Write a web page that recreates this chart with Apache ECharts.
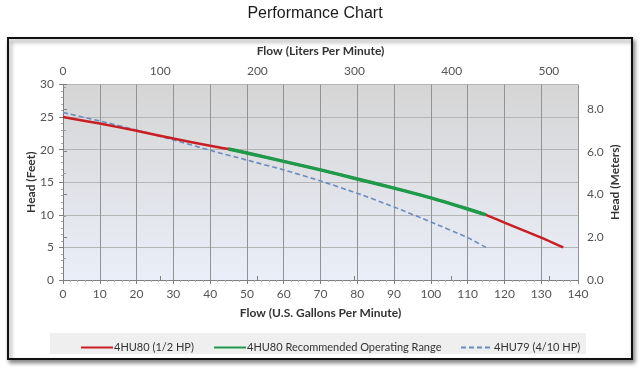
<!DOCTYPE html>
<html><head><meta charset="utf-8">
<script src="https://cdn.jsdelivr.net/npm/echarts@6/dist/echarts.min.js"></script>
<style>html,body{margin:0;padding:0;background:#fff}#c{width:640px;height:371px}</style>
</head><body><div id="c"></div>
<script>
// Data (flow in U.S. GPM, head in feet)
var hu80Flow = [0, 10, 20, 30, 40, 45, 50, 60, 70, 80, 90, 100, 110, 115, 120, 130, 136];
var hu80Head = [25.0, 24.0, 22.9, 21.7, 20.6, 20.1, 19.5, 18.2, 16.9, 15.5, 14.1, 12.6, 10.9, 10.0, 8.8, 6.5, 5.0];
var rangeFlow = [45, 50, 60, 70, 80, 90, 100, 110, 115];
var rangeHead = [20.1, 19.5, 18.2, 16.9, 15.5, 14.1, 12.6, 10.9, 10.0];
var hu79Flow = [0, 10, 20, 30, 40, 50, 60, 70, 80, 90, 100, 110, 115];
var hu79Head = [25.7, 24.4, 23.0, 21.5, 19.9, 18.4, 16.9, 15.2, 13.3, 11.2, 8.9, 6.5, 5.0];
var seriesNames = ['4HU80 (1/2 HP)', '4HU80 Recommended Operating Range', '4HU79 (4/10 HP)'];
var gpmMax = 140, ftMax = 30;
var lpmMax = gpmMax * 3.78541, mMax = ftMax * 0.3048;

function pairs(xs, ys) { return xs.map(function (x, i) { return [x, ys[i]]; }); }

var F = 'Lato, "Open Sans", sans-serif';
var lab = { color: '#555', fontSize: 12, fontFamily: F };
var nm = { color: '#333', fontSize: 12, fontWeight: 'bold', fontFamily: F };
var axLine = { show: true, lineStyle: { color: '#7f7f7f', width: 1 } };

var chart = echarts.init(document.getElementById('c'), null, { renderer: 'canvas' });
chart.setOption({
  animation: false,
  backgroundColor: '#fff',
  title: { text: 'Performance Chart', left: 310, top: 1, textAlign: 'center',
    textStyle: { fontFamily: '"Liberation Sans", Arial, sans-serif', fontSize: 16, fontWeight: 'normal', color: '#1a1a1a' } },
  graphic: [
    { type: 'rect', z: -10, shape: { x: 8, y: 38, width: 624, height: 321 },
      style: { fill: '#fff', stroke: '#111', lineWidth: 2, shadowBlur: 4, shadowOffsetX: 2, shadowOffsetY: 3, shadowColor: 'rgba(0,0,0,0.45)' } },
    { type: 'rect', z: -5, shape: { x: 50, y: 333, width: 536, height: 21 }, style: { fill: '#efefef' } }
  ],
  grid: { left: 63, right: 62, top: 84.5, bottom: 91, show: true, borderWidth: 0,
    backgroundColor: { type: 'linear', x: 0, y: 0, x2: 0, y2: 1,
      colorStops: [{ offset: 0, color: '#d5d5d5' }, { offset: 1, color: '#eaeef8' }] } },
  legend: [
    { data: [seriesNames[0]], left: 75, top: 337 },
    { data: [seriesNames[1]], left: 208, top: 337 },
    { data: [seriesNames[2]], left: 455, top: 337 }
  ].map(function (l) {
    l.itemWidth = 32; l.itemHeight = 12; l.itemGap = 0;
    l.itemStyle = { opacity: 0 };
    l.textStyle = { color: '#333', fontSize: 11, fontFamily: F, padding: [0, 0, 0, -4] };
    return l;
  }),
  xAxis: [
    { type: 'value', min: 0, max: gpmMax, interval: 10, position: 'bottom',
      name: 'Flow (U.S. Gallons Per Minute)', nameLocation: 'middle', nameGap: 27, nameTextStyle: nm,
      axisLine: axLine, axisTick: { show: true, length: 4, lineStyle: { color: '#7f7f7f' } },
      minorTick: { show: true, splitNumber: 5, length: 2, lineStyle: { color: '#aaa' } },
      axisLabel: Object.assign({ margin: 8 }, lab),
      splitLine: { show: true, lineStyle: { color: '#939393', width: 1 } } },
    { type: 'value', min: 0, max: lpmMax, interval: 100, position: 'top',
      name: 'Flow (Liters Per Minute)', nameLocation: 'middle', nameGap: 27, nameTextStyle: nm,
      axisLine: axLine, axisTick: { show: true, length: 4, lineStyle: { color: '#7f7f7f' } },
      axisLabel: Object.assign({ margin: 7, showMaxLabel: false }, lab),
      splitLine: { show: false } }
  ],
  yAxis: [
    { type: 'value', min: 0, max: ftMax, interval: 5, position: 'left',
      name: 'Head (Feet)', nameLocation: 'middle', nameGap: 26, nameMoveOverlap: false, nameTextStyle: nm,
      axisLine: axLine, axisTick: { show: true, length: 4, lineStyle: { color: '#7f7f7f' } },
      minorTick: { show: true, splitNumber: 5, length: 2, lineStyle: { color: '#aaa' } },
      axisLabel: Object.assign({ margin: 9 }, lab),
      splitLine: { show: true, lineStyle: { color: '#b5b5b5', width: 1 } } },
    { type: 'value', min: 0, max: mMax, interval: 2, position: 'right',
      name: 'Head (Meters)', nameLocation: 'middle', nameGap: 31, nameMoveOverlap: false, nameTextStyle: nm,
      axisLine: axLine, axisTick: { show: true, length: 4, lineStyle: { color: '#7f7f7f' } },
      minorTick: { show: true, splitNumber: 2, length: 3, lineStyle: { color: '#999' } },
      axisLabel: Object.assign({ margin: 9, showMaxLabel: false, formatter: function (v) { return v.toFixed(1); } }, lab),
      splitLine: { show: false } }
  ],
  series: [
    { name: seriesNames[0], type: 'line', data: pairs(hu80Flow, hu80Head), symbol: 'none', smooth: 0.2,
      lineStyle: { color: '#c81e24', width: 2.5 }, itemStyle: { color: '#c81e24' }, z: 3 },
    { name: seriesNames[1], type: 'line', data: pairs(rangeFlow, rangeHead), symbol: 'none', smooth: 0.2,
      lineStyle: { color: '#1e9a4a', width: 3.5 }, itemStyle: { color: '#1e9a4a' }, z: 4 },
    { name: seriesNames[2], type: 'line', data: pairs(hu79Flow, hu79Head), symbol: 'none', smooth: 0.2,
      lineStyle: { color: '#6a8cc0', width: 1.6, type: [5, 3] }, itemStyle: { color: '#6a8cc0' }, z: 2 },
    { type: 'line', xAxisIndex: 1, yAxisIndex: 1, data: [], silent: true }
  ]
});
</script></body></html>
